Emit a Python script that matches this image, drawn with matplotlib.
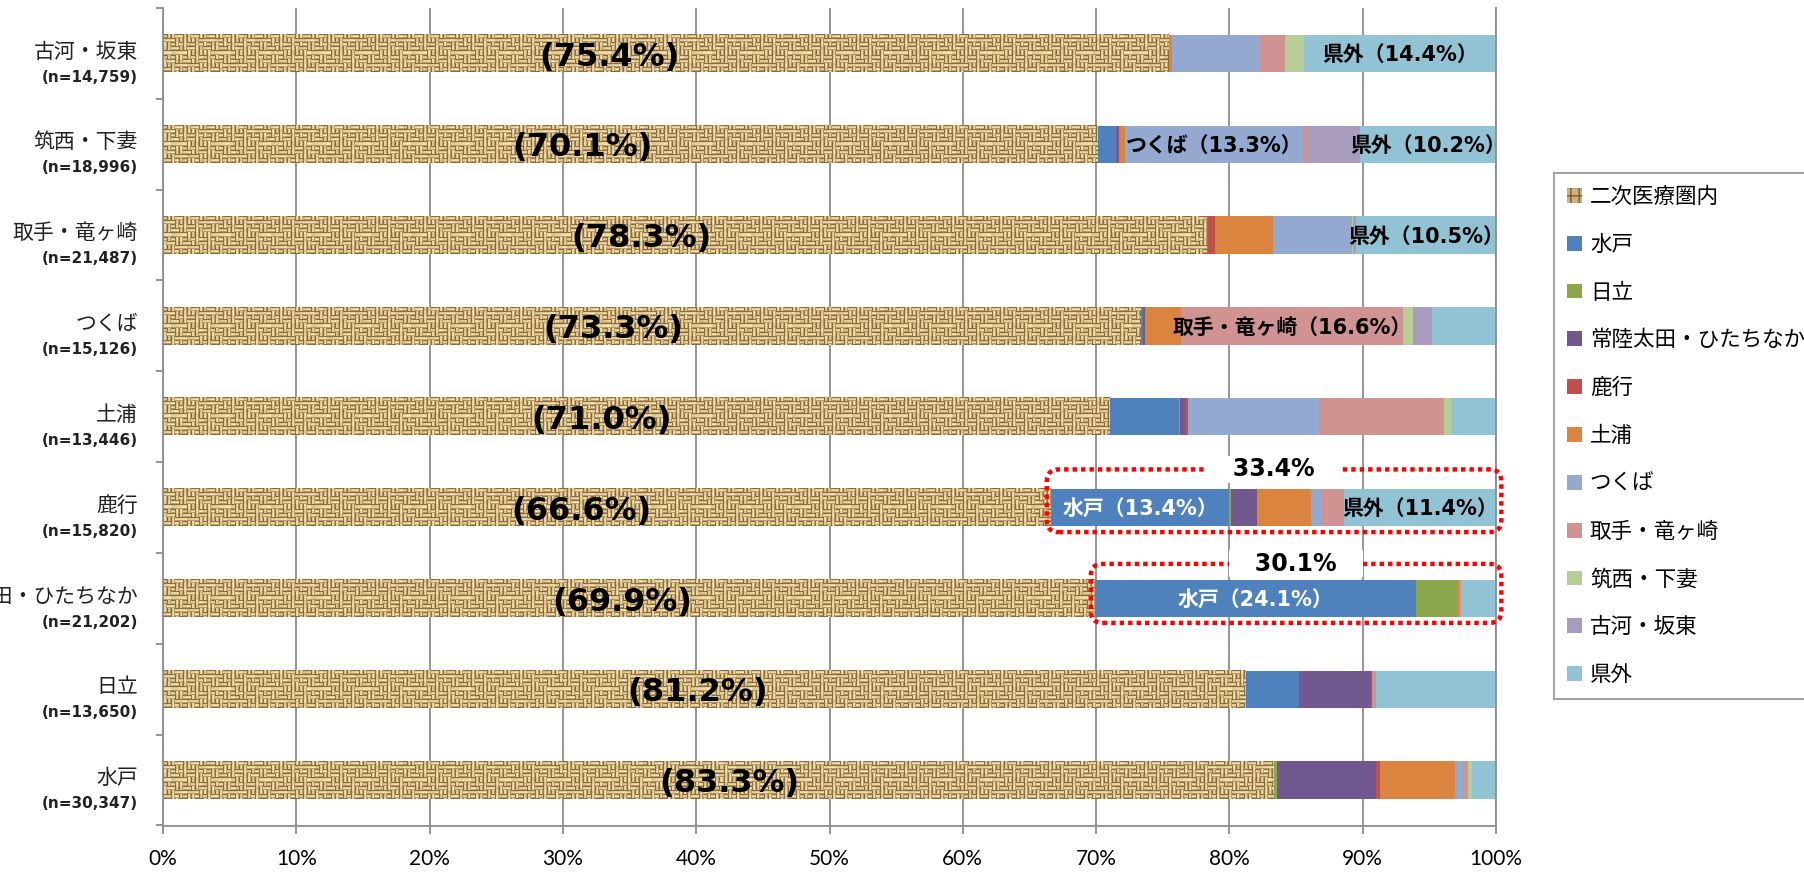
import numpy as np
import matplotlib
matplotlib.use('Agg')
import matplotlib.pyplot as plt
from matplotlib.patches import Patch, FancyBboxPatch
from matplotlib import transforms

# ---------------- data ----------------
categories = ['古河・坂東', '筑西・下妻', '取手・竜ヶ崎', 'つくば', '土浦',
              '鹿行', '常陸太田・ひたちなか', '日立', '水戸']
n_counts = ['14,759', '18,996', '21,487', '15,126', '13,446',
            '15,820', '21,202', '13,650', '30,347']
series_names = ['二次医療圏内', '水戸', '日立', '常陸太田・ひたちなか', '鹿行', '土浦',
                'つくば', '取手・竜ヶ崎', '筑西・下妻', '古河・坂東', '県外']

within     = [75.4, 70.1, 78.3, 73.3, 71.0, 66.6, 69.9, 81.2, 83.3]
mito       = [0.0, 1.4, 0.1, 0.2, 5.2, 13.4, 24.1, 4.0, 0.0]
hitachi    = [0.0, 0.0, 0.0, 0.0, 0.1, 0.1, 3.1, 0.0, 0.3]
hitachiota = [0.0, 0.2, 0.0, 0.2, 0.4, 2.0, 0.0, 5.4, 7.4]
rokko      = [0.0, 0.0, 0.5, 0.0, 0.2, 0.0, 0.0, 0.1, 0.3]
tsuchiura  = [0.3, 0.5, 4.4, 2.7, 0.0, 4.0, 0.1, 0.0, 5.6]
tsukuba    = [6.5, 13.3, 5.9, 0.0, 9.8, 0.8, 0.0, 0.0, 0.6]
toride     = [2.0, 0.4, 0.0, 16.6, 9.4, 1.7, 0.2, 0.3, 0.4]
chikusei   = [1.4, 0.0, 0.1, 0.8, 0.5, 0.0, 0.0, 0.0, 0.3]
koga       = [0.0, 3.9, 0.2, 1.4, 0.0, 0.0, 0.0, 0.0, 0.0]
kengai     = [14.4, 10.2, 10.5, 4.8, 3.4, 11.4, 2.6, 9.0, 1.8]

series_values = [within, mito, hitachi, hitachiota, rokko, tsuchiura,
                 tsukuba, toride, chikusei, koga, kengai]
series_colors = ['#CDB27E', '#4F81BD', '#8BA64B', '#71588F', '#C0504D', '#DB8440',
                 '#94A9CF', '#D19392', '#B9CD96', '#A99BBD', '#92C3D4']

# labels on individual segments: (row index, series name)
segment_labels = [(0, '県外'), (1, 'つくば'), (1, '県外'), (2, '県外'),
                  (3, '取手・竜ヶ崎'), (5, '水戸'), (5, '県外'), (6, '水戸')]
# rows highlighted with red dotted frame
highlight_rows = [5, 6]
# horizontal shift of the in-area labels (in % units)
big_label_shift = [-4.2, -3.6, -3.3, -2.9, -2.6, -1.9, -0.5, -0.5, 0.8]

cjk = ['Noto Sans CJK JP', 'DejaVu Sans']
plt.rcParams['font.family'] = ['DejaVu Sans', 'Noto Sans CJK JP']
plt.rcParams['hatch.linewidth'] = 1.0


def weave(h, w):
    """Deterministic burlap-like texture (styling only)."""
    y, x = np.mgrid[0:h, 0:w]
    p = 4
    bx, by = x // p, y // p
    horiz = ((bx * 3 + by * 5 + (bx * by) % 3) % 4) < 2
    t = np.where(horiz, y % p, x % p)
    prof = np.array([0.30, 0.90, 1.00, 0.60])
    cell = 0.85 + 0.15 * (((bx * 11 + by * 7) % 5) / 4.0)
    shade = prof[t] * cell
    light = np.array([0.98, 0.89, 0.68])
    dark = np.array([0.38, 0.26, 0.09])
    return dark + (light - dark) * shade[..., None]


fig = plt.figure(figsize=(18.04, 8.73), dpi=100)
ax = fig.add_axes([163 / 1804, 1 - 825.5 / 873, (1496 - 163) / 1804, (825.5 - 8) / 873])

ncat = len(categories)
ypos = np.arange(ncat)[::-1].astype(float)
bar_h = 0.41
px_x = 1333 / 100.0
px_y = 817.5 / 9.0

lefts = np.zeros(ncat)
left_of = {}
for name, vals, col in zip(series_names, series_values, series_colors):
    vals = np.array(vals)
    left_of[name] = lefts.copy()
    cont = ax.barh(ypos, vals, left=lefts, height=bar_h, color=col,
                   linewidth=0, zorder=2)
    if name == '二次医療圏内':
        for rect in cont:
            x0, y0 = rect.get_x(), rect.get_y()
            w, h = rect.get_width(), rect.get_height()
            img = weave(int(round(h * px_y)), int(round(w * px_x)))
            ax.imshow(img, extent=(x0, x0 + w, y0, y0 + h), origin='upper',
                      aspect='auto', interpolation='nearest', zorder=2.05)
    lefts = lefts + vals

ax.set_xlim(0, 100)
ax.set_ylim(-0.5, ncat - 0.5)
ax.set_aspect('auto')

# grid and axes
ax.set_axisbelow(True)
ax.set_xticks(range(0, 101, 10))
ax.set_xticklabels([f'{v}%' for v in range(0, 101, 10)], family=['Lato', 'DejaVu Sans'],
                   fontsize=15)
ax.xaxis.grid(True, color='#8C8C8C', linewidth=1.3)
ax.set_yticks(np.arange(-0.5, ncat, 1.0))
ax.set_yticklabels([])
ax.tick_params(axis='x', direction='out', length=6, width=1.3, color='#8C8C8C', pad=11)
ax.tick_params(axis='y', direction='out', length=5, width=1.3, color='#8C8C8C')
ax.spines['top'].set_visible(False)
for s in ['left', 'bottom', 'right']:
    ax.spines[s].set_color('#8C8C8C')
    ax.spines[s].set_linewidth(1.3)

# category labels
trans = transforms.blended_transform_factory(ax.transAxes, ax.transData)
for i, (name, n_) in enumerate(zip(categories, n_counts)):
    y = ypos[i]
    ax.text(-0.0188, y + 0.02, name, transform=trans, ha='right', va='center',
            fontsize=15, family=cjk, color='#222222')
    ax.text(-0.0188, y - 0.26, f'(n={n_})', transform=trans, ha='right', va='center',
            fontsize=11, fontweight='bold', family=['DejaVu Sans'], color='#222222')

# in-area labels
for i, v in enumerate(within):
    ax.text(v / 2 + big_label_shift[i], ypos[i] - 0.04, f'({v:.1f}%)',
            ha='center', va='center', fontsize=23, fontweight='bold', zorder=5,
            family=['DejaVu Sans'])

# segment labels
val_of = dict(zip(series_names, series_values))
for row, sname in segment_labels:
    v = val_of[sname][row]
    xc = left_of[sname][row] + v / 2
    col = 'white' if sname == '水戸' else 'black'
    ax.text(xc, ypos[row] - 0.02, f'{sname}（{v:.1f}%）', ha='center', va='center',
            fontsize=15, fontweight='bold', color=col, zorder=5,
            family=['DejaVu Sans', 'Noto Sans CJK JP'])

# red dotted frames with totals
for row in highlight_rows:
    y = ypos[row]
    x0 = within[row] - 0.3
    x1 = 100.4
    y0 = y - 0.27
    y1 = y + (0.42 if row == 5 else 0.38)
    box = FancyBboxPatch((x0, y0), x1 - x0, y1 - y0,
                         boxstyle='round,pad=0,rounding_size=0.9',
                         mutation_aspect=px_x / px_y, facecolor='none',
                         edgecolor='#FF0000', linewidth=3.2,
                         linestyle=(0, (1, 0.9)), zorder=6, clip_on=False)
    ax.add_patch(box)
    total = 100 - within[row]
    ax.text((x0 + x1) / 2, y1, f'   {total:.1f}%   ', ha='center', va='center',
            fontsize=17, fontweight='bold', zorder=7, family=['DejaVu Sans'],
            bbox=dict(facecolor='white', edgecolor='none', pad=1))

# legend
handles = []
for name, col in zip(series_names, series_colors):
    if name == '二次医療圏内':
        handles.append(Patch(facecolor=col, edgecolor='#7A5A2A', hatch='++', linewidth=0))
    else:
        handles.append(Patch(facecolor=col, linewidth=0))
leg = fig.legend(handles, series_names, loc='upper left',
                 bbox_to_anchor=(1554 / 1804, 1 - 173 / 873), frameon=True,
                 fancybox=False, edgecolor='#8C8C8C',
                 prop={'family': cjk, 'size': 15.5}, labelspacing=1.2,
                 handlelength=0.72, handleheight=0.68, handletextpad=0.35,
                 borderpad=0.6, borderaxespad=0)
leg.get_frame().set_linewidth(1.5)

fig.savefig('out.png', dpi=100)
